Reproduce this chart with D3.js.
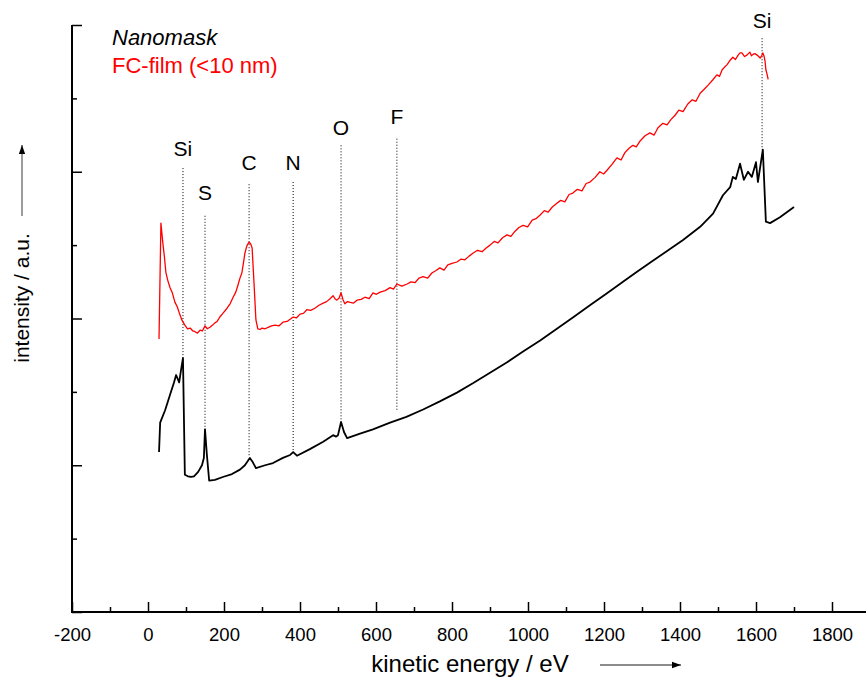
<!DOCTYPE html>
<html>
<head>
<meta charset="utf-8">
<script src="https://cdn.jsdelivr.net/npm/d3@7"></script>
<style>
  body { margin: 0; background: #fff; }
  svg { display: block; font-family: "Liberation Sans", Arial, sans-serif; }
</style>
</head>
<body>
<svg id="chart" width="866" height="684"></svg>
<script>
// ---- data (kinetic energy in eV, intensity in arbitrary units) ----
const nanomaskEnergy = [29, 32, 45, 58, 68, 74, 82, 87, 92, 97, 105, 113, 121, 132, 142, 147, 150, 155, 161, 176, 197, 221, 242, 255, 268, 276, 284, 308, 329, 355, 374, 382, 392, 426, 461, 487, 495, 500, 508, 516, 524, 558, 592, 637, 680, 724, 768, 813, 856, 900, 944, 987, 1032, 1076, 1120, 1163, 1207, 1250, 1285, 1321, 1366, 1408, 1453, 1487, 1513, 1532, 1539, 1547, 1558, 1568, 1579, 1589, 1600, 1605, 1618, 1626, 1637, 1663, 1700];
const nanomaskIntensity = [2.18, 2.58, 2.75, 2.96, 3.12, 3.23, 3.13, 3.30, 3.46, 1.87, 1.85, 1.84, 1.85, 1.91, 2.00, 2.10, 2.49, 2.14, 1.79, 1.80, 1.84, 1.88, 1.94, 2.00, 2.10, 2.04, 1.96, 2.00, 2.03, 2.10, 2.14, 2.18, 2.13, 2.22, 2.32, 2.41, 2.39, 2.41, 2.59, 2.45, 2.37, 2.43, 2.49, 2.58, 2.66, 2.76, 2.87, 2.99, 3.12, 3.26, 3.40, 3.55, 3.70, 3.86, 4.02, 4.18, 4.34, 4.50, 4.63, 4.76, 4.92, 5.07, 5.25, 5.43, 5.68, 5.79, 5.93, 5.90, 6.11, 5.89, 6.00, 5.93, 6.13, 5.86, 6.30, 5.32, 5.30, 5.38, 5.52];

const filmEnergy = [29, 34, 39, 43, 47, 52, 58, 64, 71, 77, 84, 90, 97, 104, 111, 118, 124, 130, 137, 143, 150, 156, 163, 170, 176, 182, 189, 197, 208, 216, 224, 231, 237, 242, 247, 251, 255, 258, 261, 266, 270, 274, 279, 284, 289, 295, 300, 308, 316, 325, 334, 345, 355, 366, 374, 382, 391, 400, 409, 418, 428, 439, 450, 461, 470, 479, 487, 492, 497, 503, 508, 513, 518, 525, 532, 541, 550, 561, 571, 582, 592, 601, 611, 624, 637, 646, 655, 668, 682, 692, 703, 713, 724, 736, 747, 757, 768, 779, 789, 800, 813, 824, 834, 845, 855, 867, 879, 890, 900, 911, 921, 933, 945, 955, 966, 976, 987, 999, 1011, 1021, 1032, 1043, 1053, 1064, 1076, 1086, 1097, 1108, 1118, 1130, 1142, 1153, 1163, 1176, 1189, 1199, 1208, 1221, 1234, 1245, 1255, 1266, 1276, 1285, 1295, 1308, 1321, 1332, 1342, 1355, 1366, 1376, 1387, 1397, 1408, 1420, 1432, 1442, 1453, 1463, 1474, 1486, 1497, 1504, 1511, 1518, 1524, 1532, 1539, 1546, 1553, 1558, 1563, 1570, 1576, 1580, 1584, 1588, 1592, 1597, 1603, 1607, 1611, 1615, 1618, 1621, 1624, 1626, 1629, 1632];
const filmIntensity = [3.72, 5.30, 5.03, 4.85, 4.63, 4.52, 4.42, 4.35, 4.22, 4.16, 4.05, 3.97, 3.91, 3.86, 3.87, 3.83, 3.82, 3.80, 3.84, 3.83, 3.90, 3.86, 3.88, 3.91, 3.94, 3.96, 4.02, 4.07, 4.14, 4.20, 4.29, 4.36, 4.46, 4.55, 4.62, 4.75, 4.89, 4.95, 5.00, 5.04, 5.02, 4.96, 4.48, 3.98, 3.86, 3.85, 3.87, 3.86, 3.88, 3.90, 3.91, 3.90, 3.95, 3.96, 3.99, 4.02, 4.01, 4.06, 4.07, 4.12, 4.11, 4.14, 4.18, 4.21, 4.23, 4.27, 4.31, 4.27, 4.25, 4.28, 4.35, 4.26, 4.20, 4.23, 4.22, 4.21, 4.25, 4.26, 4.29, 4.27, 4.35, 4.33, 4.36, 4.38, 4.42, 4.40, 4.47, 4.44, 4.47, 4.50, 4.49, 4.55, 4.57, 4.55, 4.62, 4.65, 4.69, 4.66, 4.73, 4.75, 4.77, 4.81, 4.80, 4.85, 4.89, 4.93, 4.91, 4.96, 5.00, 5.05, 5.03, 5.10, 5.14, 5.12, 5.19, 5.24, 5.27, 5.25, 5.34, 5.36, 5.41, 5.47, 5.45, 5.52, 5.57, 5.61, 5.59, 5.69, 5.71, 5.76, 5.74, 5.84, 5.86, 5.92, 6.00, 5.97, 6.02, 6.10, 6.19, 6.16, 6.26, 6.32, 6.36, 6.34, 6.42, 6.49, 6.53, 6.50, 6.60, 6.66, 6.64, 6.71, 6.77, 6.84, 6.82, 6.92, 6.98, 6.96, 7.07, 7.12, 7.18, 7.25, 7.32, 7.30, 7.39, 7.43, 7.46, 7.52, 7.56, 7.53, 7.59, 7.62, 7.62, 7.57, 7.59, 7.61, 7.63, 7.58, 7.60, 7.61, 7.59, 7.57, 7.55, 7.58, 7.62, 7.58, 7.50, 7.39, 7.33, 7.26];

const xTickValues = [-200, -100, 0, 100, 200, 300, 400, 500, 600, 700, 800, 900, 1000, 1100, 1200, 1300, 1400, 1500, 1600, 1700, 1800];
const yTickValues = [0, 1, 2, 3, 4, 5, 6, 7, 8];

const peakLabels = ["Si", "S", "C", "N", "O", "F", "Si"];
const peakEnergy = [92, 150, 266, 382, 508, 655, 1616];
const peakLabelLevel = [6.21, 5.62, 6.02, 6.02, 6.50, 6.65, 7.96];
const peakLineTop = [6.05, 5.40, 5.83, 5.86, 6.36, 6.45, 7.82];
const peakLineBottom = [3.46, 2.48, 2.11, 2.18, 2.62, 2.75, 6.30];

const legendLabels = ["Nanomask", "FC-film (<10 nm)"];
const xTitle = "kinetic energy / eV";
const yTitle = "intensity / a.u.";

// ---- layout ----
const svg = d3.select("#chart");
const mLeft = 72, mTop = 25, mBottom = 612, mRight = 870;

const x = d3.scaleLinear().domain([-200, 1900]).range([mLeft, mRight]);
const y = d3.scaleLinear().domain([0, 8]).range([mBottom, mTop]);

// x axis
const xAxis = d3.axisBottom(x)
  .tickValues(xTickValues)
  .tickSize(0)
  .tickFormat(d => (d % 200 === 0 ? d : ""));
const gx = svg.append("g").attr("transform", `translate(0,${mBottom})`).call(xAxis);
gx.select(".domain").remove();
gx.selectAll(".tick text").attr("font-size", 18.5).attr("fill", "#000").attr("dy", "0").attr("y", 29)
  .attr("font-family", "'Liberation Sans', Arial, sans-serif");
gx.selectAll(".tick").append("line")
  .attr("y1", 0).attr("y2", d => (d % 200 === 0 ? -10 : -5))
  .attr("stroke", "#000").attr("stroke-width", 1.5);
svg.append("line").attr("x1", mLeft).attr("x2", 866).attr("y1", mBottom).attr("y2", mBottom)
  .attr("stroke", "#000").attr("stroke-width", 2);

// y axis
const yAxis = d3.axisLeft(y).tickValues(yTickValues).tickSize(0).tickFormat("");
const gy = svg.append("g").attr("transform", `translate(${mLeft},0)`).call(yAxis);
gy.select(".domain").remove();
gy.selectAll(".tick").append("line")
  .attr("x1", 0).attr("x2", d => (d % 2 === 0 ? 10 : 5))
  .attr("stroke", "#000").attr("stroke-width", 1.5);
svg.append("line").attr("x1", mLeft).attr("x2", mLeft).attr("y1", mTop).attr("y2", mBottom + 1)
  .attr("stroke", "#000").attr("stroke-width", 2);

// peak marker lines
const peaks = peakLabels.map((l, i) => ({ l, e: peakEnergy[i], t: peakLabelLevel[i], a: peakLineTop[i], b: peakLineBottom[i] }));
svg.append("g").selectAll("line").data(peaks).join("line")
  .attr("x1", d => x(d.e)).attr("x2", d => x(d.e))
  .attr("y1", d => y(d.a)).attr("y2", d => y(d.b))
  .attr("stroke", "#000").attr("stroke-width", 1).attr("stroke-dasharray", "1,2");
svg.append("g").selectAll("text").data(peaks).join("text")
  .attr("x", d => x(d.e)).attr("y", d => y(d.t))
  .attr("text-anchor", "middle").attr("font-size", 21).attr("fill", "#000")
  .text(d => d.l);

// curves
const line = d3.line().x(d => x(d[0])).y(d => y(d[1]));
const blackData = nanomaskEnergy.map((e, i) => [e, nanomaskIntensity[i]]);
const redData = filmEnergy.map((e, i) => [e, filmIntensity[i]]);
svg.append("path").datum(redData).attr("d", line)
  .attr("fill", "none").attr("stroke", "#ff0000").attr("stroke-width", 1.3).attr("stroke-linejoin", "round");
svg.append("path").datum(blackData).attr("d", line)
  .attr("fill", "none").attr("stroke", "#000").attr("stroke-width", 1.8).attr("stroke-linejoin", "round");

// legend
svg.append("text").attr("x", 112).attr("y", 45).attr("font-size", 22).attr("font-style", "italic")
  .attr("fill", "#000").text(legendLabels[0]);
svg.append("text").attr("x", 112).attr("y", 73).attr("font-size", 22)
  .attr("fill", "#ff0000").text(legendLabels[1]);

// axis titles
svg.append("text").attr("x", 470).attr("y", 672).attr("text-anchor", "middle")
  .attr("font-size", 24).attr("fill", "#000").text(xTitle);
svg.append("text").attr("transform", "translate(29,298) rotate(-90)").attr("text-anchor", "middle")
  .attr("font-size", 21).attr("fill", "#000").text(yTitle);

// arrows
const defs = svg.append("defs");
defs.append("marker").attr("id", "ah").attr("viewBox", "0 0 10 10").attr("refX", 10).attr("refY", 5)
  .attr("markerWidth", 9).attr("markerHeight", 9).attr("markerUnits", "userSpaceOnUse").attr("orient", "auto")
  .append("path").attr("d", "M0,1.5 L10,5 L0,8.5 Z").attr("fill", "#000");
svg.append("line").attr("x1", 600).attr("x2", 681).attr("y1", 665).attr("y2", 665)
  .attr("stroke", "#666").attr("stroke-width", 1.3).attr("marker-end", "url(#ah)");
svg.append("line").attr("x1", 22).attr("x2", 22).attr("y1", 216).attr("y2", 145)
  .attr("stroke", "#666").attr("stroke-width", 1.3).attr("marker-end", "url(#ah)");
</script>
</body>
</html>
